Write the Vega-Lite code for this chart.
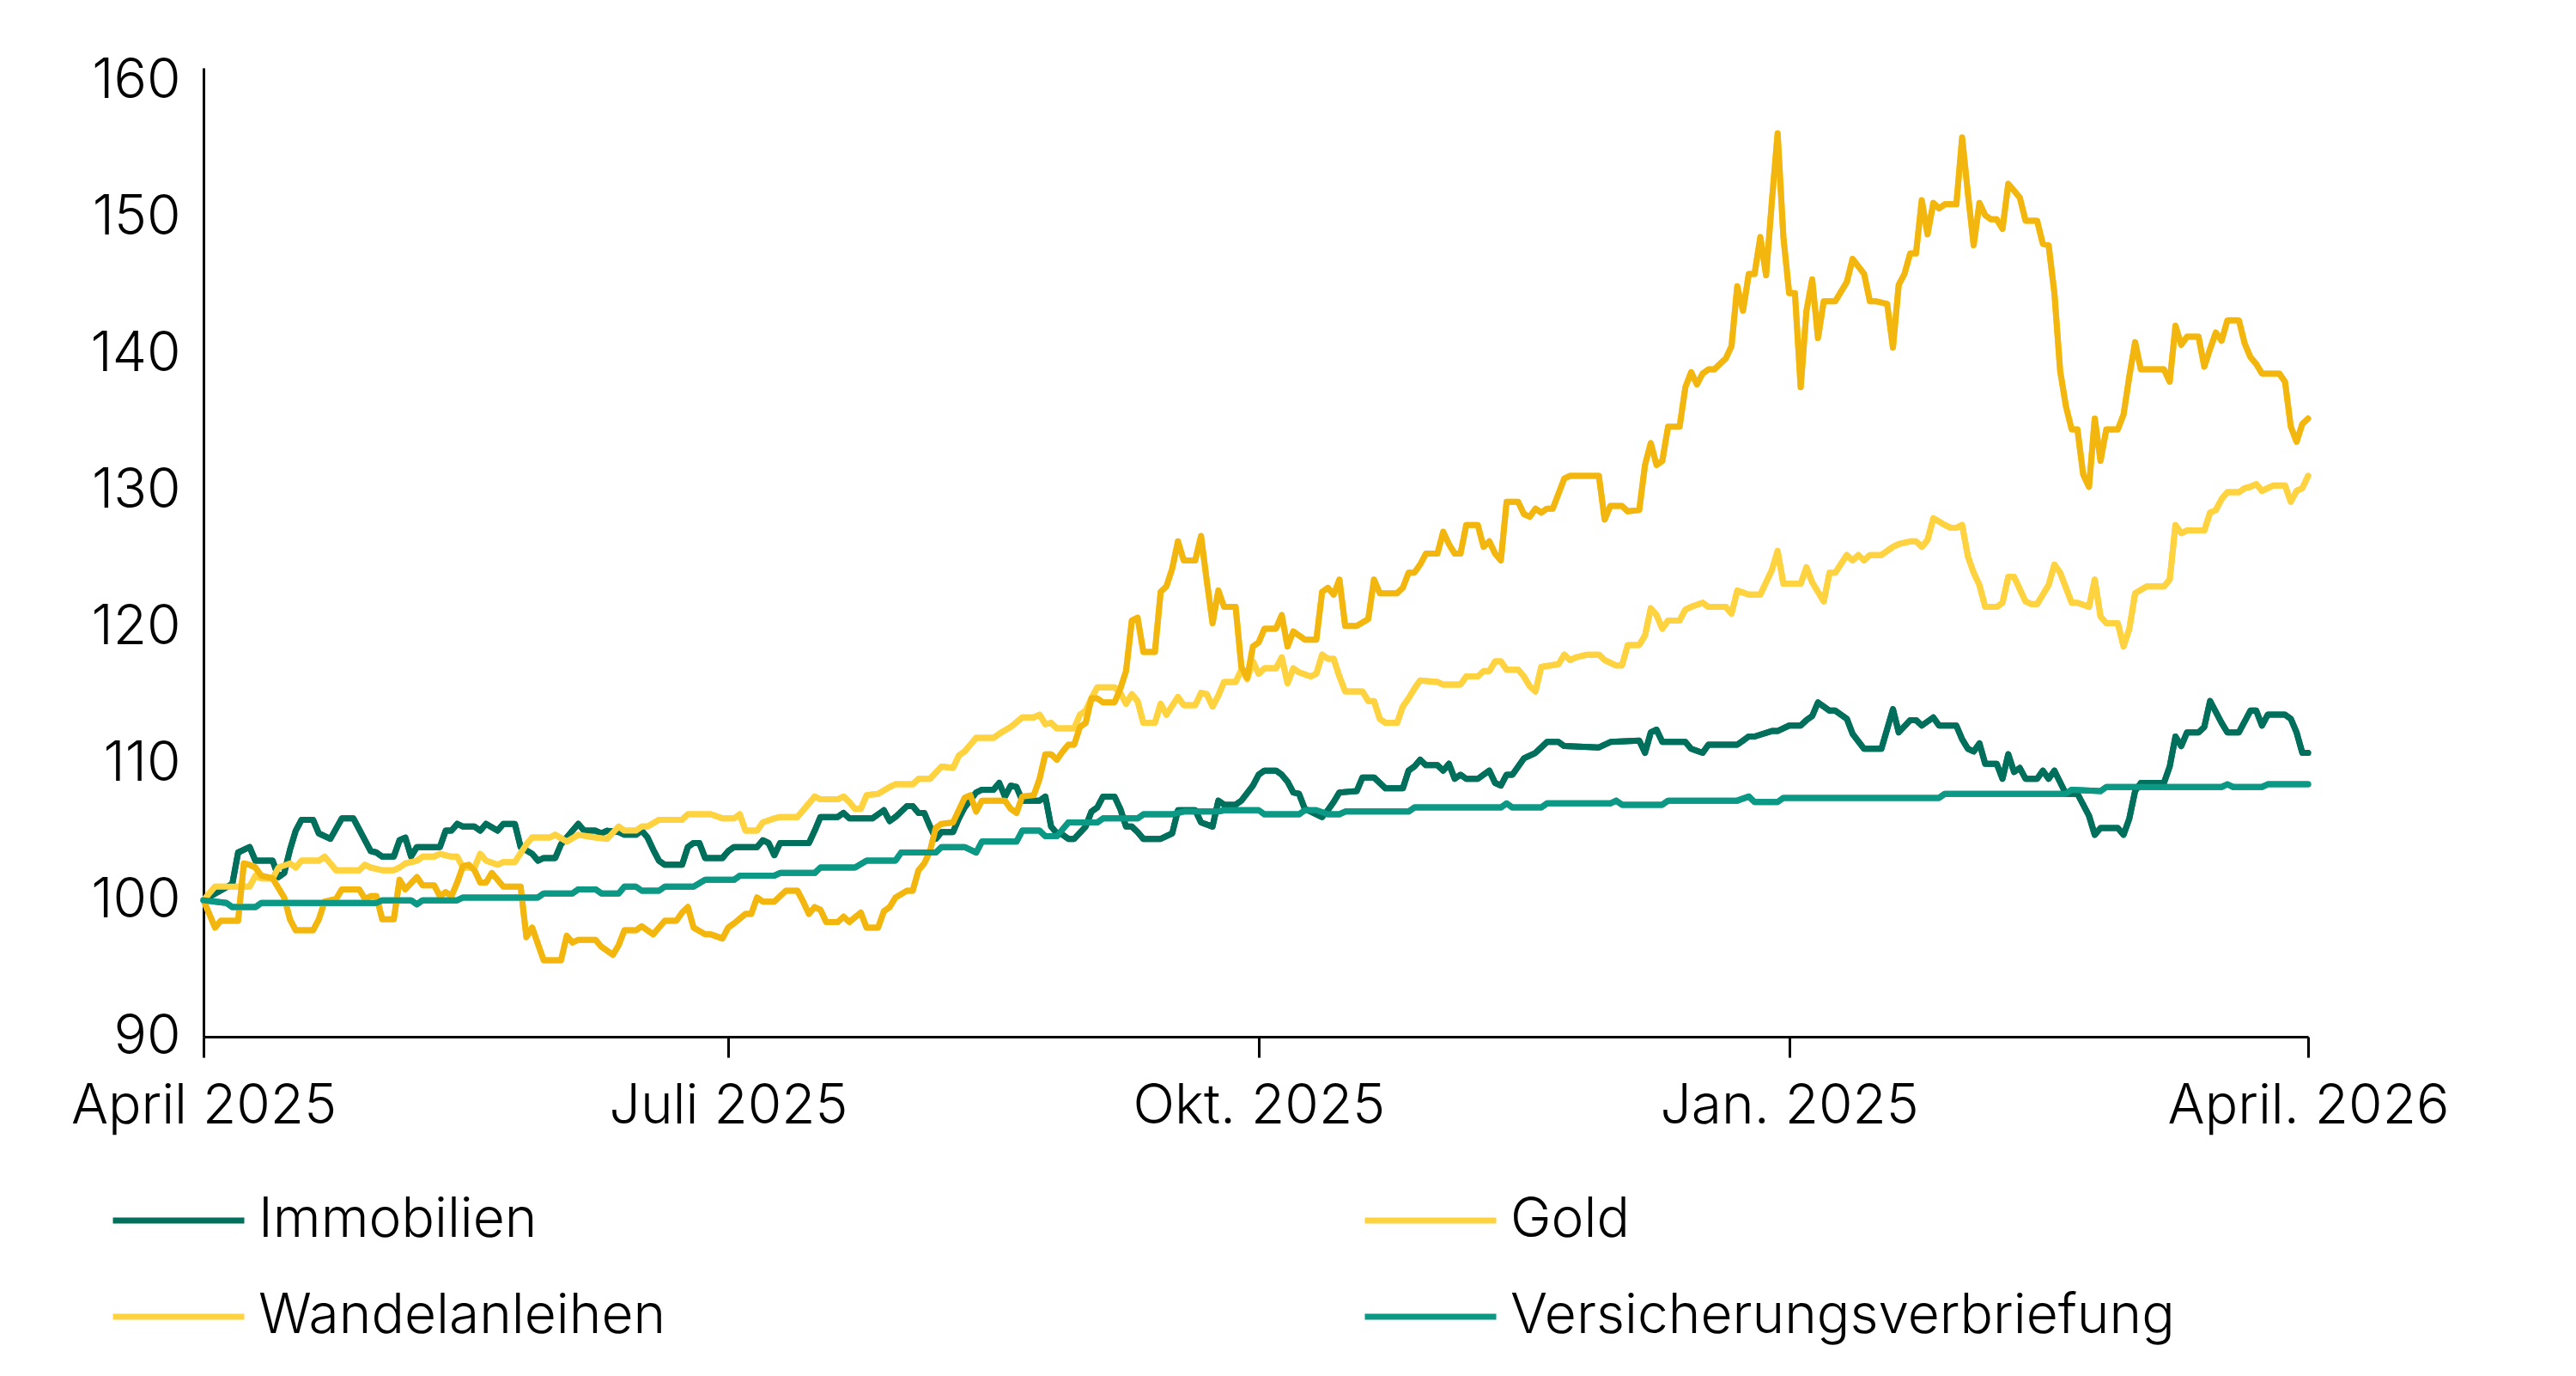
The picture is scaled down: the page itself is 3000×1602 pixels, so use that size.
{
  "$schema": "https://vega.github.io/schema/vega-lite/v6.json",
  "width": 2451,
  "height": 1128,
  "autosize": {"type": "none"},
  "padding": {"left": 237, "top": 79, "right": 312, "bottom": 395},
  "background": "white",
  "config": {
    "view": {"stroke": null},
    "font": "Inter",
    "axis": {"labelFont": "Inter", "labelFontWeight": 300, "labelColor": "#000000", "labelFontSize": 64, "labelLimit": 1000, "domainColor": "#000000", "domainWidth": 3, "tickColor": "#000000", "tickWidth": 3, "grid": false, "title": null}
  },
  "data": {"values": [
    {"asset":"Immobilien","date":"2025-04-01","value":100},
    {"asset":"Immobilien","date":"2025-04-06","value":101.2},
    {"asset":"Immobilien","date":"2025-04-07","value":103.5},
    {"asset":"Immobilien","date":"2025-04-09","value":103.9},
    {"asset":"Immobilien","date":"2025-04-10","value":102.9},
    {"asset":"Immobilien","date":"2025-04-13","value":102.9},
    {"asset":"Immobilien","date":"2025-04-14","value":101.7},
    {"asset":"Immobilien","date":"2025-04-15","value":102.0},
    {"asset":"Immobilien","date":"2025-04-16","value":103.7},
    {"asset":"Immobilien","date":"2025-04-17","value":105.1},
    {"asset":"Immobilien","date":"2025-04-18","value":105.9},
    {"asset":"Immobilien","date":"2025-04-20","value":105.9},
    {"asset":"Immobilien","date":"2025-04-21","value":104.9},
    {"asset":"Immobilien","date":"2025-04-23","value":104.5},
    {"asset":"Immobilien","date":"2025-04-25","value":106.0},
    {"asset":"Immobilien","date":"2025-04-27","value":106.0},
    {"asset":"Immobilien","date":"2025-04-30","value":103.6},
    {"asset":"Immobilien","date":"2025-05-01","value":103.5},
    {"asset":"Immobilien","date":"2025-05-02","value":103.2},
    {"asset":"Immobilien","date":"2025-05-04","value":103.2},
    {"asset":"Immobilien","date":"2025-05-05","value":104.4},
    {"asset":"Immobilien","date":"2025-05-06","value":104.6},
    {"asset":"Immobilien","date":"2025-05-07","value":103.2},
    {"asset":"Immobilien","date":"2025-05-08","value":103.9},
    {"asset":"Immobilien","date":"2025-05-12","value":103.9},
    {"asset":"Immobilien","date":"2025-05-13","value":105.1},
    {"asset":"Immobilien","date":"2025-05-14","value":105.1},
    {"asset":"Immobilien","date":"2025-05-15","value":105.6},
    {"asset":"Immobilien","date":"2025-05-16","value":105.4},
    {"asset":"Immobilien","date":"2025-05-18","value":105.4},
    {"asset":"Immobilien","date":"2025-05-19","value":105.1},
    {"asset":"Immobilien","date":"2025-05-20","value":105.6},
    {"asset":"Immobilien","date":"2025-05-22","value":105.1},
    {"asset":"Immobilien","date":"2025-05-23","value":105.6},
    {"asset":"Immobilien","date":"2025-05-25","value":105.6},
    {"asset":"Immobilien","date":"2025-05-26","value":103.9},
    {"asset":"Immobilien","date":"2025-05-28","value":103.4},
    {"asset":"Immobilien","date":"2025-05-29","value":102.9},
    {"asset":"Immobilien","date":"2025-05-30","value":103.1},
    {"asset":"Immobilien","date":"2025-06-01","value":103.1},
    {"asset":"Immobilien","date":"2025-06-02","value":104.1},
    {"asset":"Immobilien","date":"2025-06-04","value":105.1},
    {"asset":"Immobilien","date":"2025-06-05","value":105.6},
    {"asset":"Immobilien","date":"2025-06-06","value":105.1},
    {"asset":"Immobilien","date":"2025-06-08","value":105.1},
    {"asset":"Immobilien","date":"2025-06-09","value":104.9},
    {"asset":"Immobilien","date":"2025-06-10","value":105.1},
    {"asset":"Immobilien","date":"2025-06-12","value":105.0},
    {"asset":"Immobilien","date":"2025-06-13","value":104.8},
    {"asset":"Immobilien","date":"2025-06-15","value":104.8},
    {"asset":"Immobilien","date":"2025-06-16","value":105.1},
    {"asset":"Immobilien","date":"2025-06-17","value":104.6},
    {"asset":"Immobilien","date":"2025-06-18","value":103.7},
    {"asset":"Immobilien","date":"2025-06-19","value":102.9},
    {"asset":"Immobilien","date":"2025-06-20","value":102.6},
    {"asset":"Immobilien","date":"2025-06-23","value":102.6},
    {"asset":"Immobilien","date":"2025-06-24","value":103.9},
    {"asset":"Immobilien","date":"2025-06-25","value":104.2},
    {"asset":"Immobilien","date":"2025-06-26","value":104.2},
    {"asset":"Immobilien","date":"2025-06-27","value":103.1},
    {"asset":"Immobilien","date":"2025-06-30","value":103.1},
    {"asset":"Immobilien","date":"2025-07-01","value":103.6},
    {"asset":"Immobilien","date":"2025-07-02","value":103.9},
    {"asset":"Immobilien","date":"2025-07-06","value":103.9},
    {"asset":"Immobilien","date":"2025-07-07","value":104.4},
    {"asset":"Immobilien","date":"2025-07-08","value":104.2},
    {"asset":"Immobilien","date":"2025-07-09","value":103.3},
    {"asset":"Immobilien","date":"2025-07-10","value":104.2},
    {"asset":"Immobilien","date":"2025-07-15","value":104.2},
    {"asset":"Immobilien","date":"2025-07-16","value":105.1},
    {"asset":"Immobilien","date":"2025-07-17","value":106.1},
    {"asset":"Immobilien","date":"2025-07-20","value":106.1},
    {"asset":"Immobilien","date":"2025-07-21","value":106.4},
    {"asset":"Immobilien","date":"2025-07-22","value":106.0},
    {"asset":"Immobilien","date":"2025-07-26","value":106.0},
    {"asset":"Immobilien","date":"2025-07-28","value":106.6},
    {"asset":"Immobilien","date":"2025-07-29","value":105.8},
    {"asset":"Immobilien","date":"2025-07-30","value":106.1},
    {"asset":"Immobilien","date":"2025-08-01","value":106.9},
    {"asset":"Immobilien","date":"2025-08-02","value":106.9},
    {"asset":"Immobilien","date":"2025-08-03","value":106.4},
    {"asset":"Immobilien","date":"2025-08-04","value":106.4},
    {"asset":"Immobilien","date":"2025-08-05","value":105.4},
    {"asset":"Immobilien","date":"2025-08-06","value":104.5},
    {"asset":"Immobilien","date":"2025-08-07","value":105.0},
    {"asset":"Immobilien","date":"2025-08-09","value":105.0},
    {"asset":"Immobilien","date":"2025-08-10","value":106.0},
    {"asset":"Immobilien","date":"2025-08-11","value":106.8},
    {"asset":"Immobilien","date":"2025-08-13","value":107.9},
    {"asset":"Immobilien","date":"2025-08-14","value":108.1},
    {"asset":"Immobilien","date":"2025-08-16","value":108.1},
    {"asset":"Immobilien","date":"2025-08-17","value":108.6},
    {"asset":"Immobilien","date":"2025-08-18","value":107.6},
    {"asset":"Immobilien","date":"2025-08-19","value":108.4},
    {"asset":"Immobilien","date":"2025-08-20","value":108.3},
    {"asset":"Immobilien","date":"2025-08-21","value":107.3},
    {"asset":"Immobilien","date":"2025-08-24","value":107.3},
    {"asset":"Immobilien","date":"2025-08-25","value":107.6},
    {"asset":"Immobilien","date":"2025-08-26","value":105.4},
    {"asset":"Immobilien","date":"2025-08-27","value":104.9},
    {"asset":"Immobilien","date":"2025-08-28","value":104.8},
    {"asset":"Immobilien","date":"2025-08-29","value":104.5},
    {"asset":"Immobilien","date":"2025-08-30","value":104.5},
    {"asset":"Immobilien","date":"2025-09-01","value":105.4},
    {"asset":"Immobilien","date":"2025-09-02","value":106.5},
    {"asset":"Immobilien","date":"2025-09-03","value":106.8},
    {"asset":"Immobilien","date":"2025-09-04","value":107.6},
    {"asset":"Immobilien","date":"2025-09-06","value":107.6},
    {"asset":"Immobilien","date":"2025-09-07","value":106.7},
    {"asset":"Immobilien","date":"2025-09-08","value":105.4},
    {"asset":"Immobilien","date":"2025-09-09","value":105.4},
    {"asset":"Immobilien","date":"2025-09-10","value":105.0},
    {"asset":"Immobilien","date":"2025-09-11","value":104.5},
    {"asset":"Immobilien","date":"2025-09-14","value":104.5},
    {"asset":"Immobilien","date":"2025-09-16","value":104.9},
    {"asset":"Immobilien","date":"2025-09-17","value":106.6},
    {"asset":"Immobilien","date":"2025-09-20","value":106.6},
    {"asset":"Immobilien","date":"2025-09-21","value":105.7},
    {"asset":"Immobilien","date":"2025-09-23","value":105.4},
    {"asset":"Immobilien","date":"2025-09-24","value":107.3},
    {"asset":"Immobilien","date":"2025-09-25","value":107.0},
    {"asset":"Immobilien","date":"2025-09-27","value":107.0},
    {"asset":"Immobilien","date":"2025-09-28","value":107.3},
    {"asset":"Immobilien","date":"2025-09-30","value":108.4},
    {"asset":"Immobilien","date":"2025-10-01","value":109.2},
    {"asset":"Immobilien","date":"2025-10-02","value":109.5},
    {"asset":"Immobilien","date":"2025-10-04","value":109.5},
    {"asset":"Immobilien","date":"2025-10-05","value":109.2},
    {"asset":"Immobilien","date":"2025-10-06","value":108.7},
    {"asset":"Immobilien","date":"2025-10-07","value":107.9},
    {"asset":"Immobilien","date":"2025-10-08","value":107.8},
    {"asset":"Immobilien","date":"2025-10-09","value":106.7},
    {"asset":"Immobilien","date":"2025-10-10","value":106.5},
    {"asset":"Immobilien","date":"2025-10-11","value":106.3},
    {"asset":"Immobilien","date":"2025-10-12","value":106.1},
    {"asset":"Immobilien","date":"2025-10-13","value":106.6},
    {"asset":"Immobilien","date":"2025-10-14","value":107.2},
    {"asset":"Immobilien","date":"2025-10-15","value":107.9},
    {"asset":"Immobilien","date":"2025-10-18","value":108.0},
    {"asset":"Immobilien","date":"2025-10-19","value":109.0},
    {"asset":"Immobilien","date":"2025-10-21","value":109.0},
    {"asset":"Immobilien","date":"2025-10-23","value":108.2},
    {"asset":"Immobilien","date":"2025-10-26","value":108.2},
    {"asset":"Immobilien","date":"2025-10-27","value":109.5},
    {"asset":"Immobilien","date":"2025-10-28","value":109.8},
    {"asset":"Immobilien","date":"2025-10-29","value":110.3},
    {"asset":"Immobilien","date":"2025-10-30","value":109.9},
    {"asset":"Immobilien","date":"2025-11-01","value":109.9},
    {"asset":"Immobilien","date":"2025-11-02","value":109.5},
    {"asset":"Immobilien","date":"2025-11-03","value":110.0},
    {"asset":"Immobilien","date":"2025-11-04","value":108.9},
    {"asset":"Immobilien","date":"2025-11-05","value":109.2},
    {"asset":"Immobilien","date":"2025-11-06","value":108.9},
    {"asset":"Immobilien","date":"2025-11-08","value":108.9},
    {"asset":"Immobilien","date":"2025-11-10","value":109.5},
    {"asset":"Immobilien","date":"2025-11-11","value":108.6},
    {"asset":"Immobilien","date":"2025-11-12","value":108.4},
    {"asset":"Immobilien","date":"2025-11-13","value":109.2},
    {"asset":"Immobilien","date":"2025-11-14","value":109.2},
    {"asset":"Immobilien","date":"2025-11-16","value":110.4},
    {"asset":"Immobilien","date":"2025-11-18","value":110.8},
    {"asset":"Immobilien","date":"2025-11-20","value":111.6},
    {"asset":"Immobilien","date":"2025-11-22","value":111.6},
    {"asset":"Immobilien","date":"2025-11-23","value":111.3},
    {"asset":"Immobilien","date":"2025-11-29","value":111.2},
    {"asset":"Immobilien","date":"2025-12-01","value":111.6},
    {"asset":"Immobilien","date":"2025-12-06","value":111.7},
    {"asset":"Immobilien","date":"2025-12-07","value":110.8},
    {"asset":"Immobilien","date":"2025-12-08","value":112.3},
    {"asset":"Immobilien","date":"2025-12-09","value":112.5},
    {"asset":"Immobilien","date":"2025-12-10","value":111.6},
    {"asset":"Immobilien","date":"2025-12-14","value":111.6},
    {"asset":"Immobilien","date":"2025-12-15","value":111.1},
    {"asset":"Immobilien","date":"2025-12-17","value":110.8},
    {"asset":"Immobilien","date":"2025-12-18","value":111.4},
    {"asset":"Immobilien","date":"2025-12-23","value":111.4},
    {"asset":"Immobilien","date":"2025-12-25","value":112.0},
    {"asset":"Immobilien","date":"2025-12-26","value":112.0},
    {"asset":"Immobilien","date":"2025-12-29","value":112.4},
    {"asset":"Immobilien","date":"2025-12-30","value":112.4},
    {"asset":"Immobilien","date":"2026-01-01","value":112.8},
    {"asset":"Immobilien","date":"2026-01-03","value":112.8},
    {"asset":"Immobilien","date":"2026-01-04","value":113.2},
    {"asset":"Immobilien","date":"2026-01-05","value":113.5},
    {"asset":"Immobilien","date":"2026-01-06","value":114.5},
    {"asset":"Immobilien","date":"2026-01-07","value":114.2},
    {"asset":"Immobilien","date":"2026-01-08","value":113.9},
    {"asset":"Immobilien","date":"2026-01-09","value":113.9},
    {"asset":"Immobilien","date":"2026-01-11","value":113.3},
    {"asset":"Immobilien","date":"2026-01-12","value":112.2},
    {"asset":"Immobilien","date":"2026-01-14","value":111.1},
    {"asset":"Immobilien","date":"2026-01-17","value":111.1},
    {"asset":"Immobilien","date":"2026-01-19","value":114.0},
    {"asset":"Immobilien","date":"2026-01-20","value":112.3},
    {"asset":"Immobilien","date":"2026-01-22","value":113.2},
    {"asset":"Immobilien","date":"2026-01-23","value":113.2},
    {"asset":"Immobilien","date":"2026-01-24","value":112.8},
    {"asset":"Immobilien","date":"2026-01-26","value":113.4},
    {"asset":"Immobilien","date":"2026-01-27","value":112.8},
    {"asset":"Immobilien","date":"2026-01-30","value":112.8},
    {"asset":"Immobilien","date":"2026-01-31","value":111.8},
    {"asset":"Immobilien","date":"2026-02-01","value":111.1},
    {"asset":"Immobilien","date":"2026-02-02","value":110.9},
    {"asset":"Immobilien","date":"2026-02-03","value":111.5},
    {"asset":"Immobilien","date":"2026-02-04","value":110.0},
    {"asset":"Immobilien","date":"2026-02-06","value":110.0},
    {"asset":"Immobilien","date":"2026-02-07","value":108.9},
    {"asset":"Immobilien","date":"2026-02-08","value":110.7},
    {"asset":"Immobilien","date":"2026-02-09","value":109.4},
    {"asset":"Immobilien","date":"2026-02-10","value":109.7},
    {"asset":"Immobilien","date":"2026-02-11","value":108.9},
    {"asset":"Immobilien","date":"2026-02-13","value":108.9},
    {"asset":"Immobilien","date":"2026-02-14","value":109.5},
    {"asset":"Immobilien","date":"2026-02-15","value":108.9},
    {"asset":"Immobilien","date":"2026-02-16","value":109.5},
    {"asset":"Immobilien","date":"2026-02-18","value":107.8},
    {"asset":"Immobilien","date":"2026-02-20","value":107.8},
    {"asset":"Immobilien","date":"2026-02-22","value":106.2},
    {"asset":"Immobilien","date":"2026-02-23","value":104.8},
    {"asset":"Immobilien","date":"2026-02-24","value":105.3},
    {"asset":"Immobilien","date":"2026-02-27","value":105.3},
    {"asset":"Immobilien","date":"2026-02-28","value":104.8},
    {"asset":"Immobilien","date":"2026-03-01","value":106.0},
    {"asset":"Immobilien","date":"2026-03-02","value":108.0},
    {"asset":"Immobilien","date":"2026-03-03","value":108.6},
    {"asset":"Immobilien","date":"2026-03-07","value":108.6},
    {"asset":"Immobilien","date":"2026-03-08","value":109.8},
    {"asset":"Immobilien","date":"2026-03-09","value":112.0},
    {"asset":"Immobilien","date":"2026-03-10","value":111.3},
    {"asset":"Immobilien","date":"2026-03-11","value":112.3},
    {"asset":"Immobilien","date":"2026-03-13","value":112.3},
    {"asset":"Immobilien","date":"2026-03-14","value":112.7},
    {"asset":"Immobilien","date":"2026-03-15","value":114.6},
    {"asset":"Immobilien","date":"2026-03-16","value":113.8},
    {"asset":"Immobilien","date":"2026-03-17","value":113.0},
    {"asset":"Immobilien","date":"2026-03-18","value":112.3},
    {"asset":"Immobilien","date":"2026-03-20","value":112.3},
    {"asset":"Immobilien","date":"2026-03-22","value":113.9},
    {"asset":"Immobilien","date":"2026-03-23","value":113.9},
    {"asset":"Immobilien","date":"2026-03-24","value":112.8},
    {"asset":"Immobilien","date":"2026-03-25","value":113.6},
    {"asset":"Immobilien","date":"2026-03-28","value":113.6},
    {"asset":"Immobilien","date":"2026-03-29","value":113.3},
    {"asset":"Immobilien","date":"2026-03-30","value":112.3},
    {"asset":"Immobilien","date":"2026-03-31","value":110.8},
    {"asset":"Immobilien","date":"2026-04-01","value":110.8},

    {"asset":"Wandelanleihen","date":"2025-04-01","value":100},
    {"asset":"Wandelanleihen","date":"2025-04-03","value":101.0},
    {"asset":"Wandelanleihen","date":"2025-04-09","value":101.0},
    {"asset":"Wandelanleihen","date":"2025-04-10","value":101.8},
    {"asset":"Wandelanleihen","date":"2025-04-11","value":101.6},
    {"asset":"Wandelanleihen","date":"2025-04-13","value":101.6},
    {"asset":"Wandelanleihen","date":"2025-04-14","value":102.4},
    {"asset":"Wandelanleihen","date":"2025-04-16","value":102.7},
    {"asset":"Wandelanleihen","date":"2025-04-17","value":102.4},
    {"asset":"Wandelanleihen","date":"2025-04-18","value":102.9},
    {"asset":"Wandelanleihen","date":"2025-04-21","value":102.9},
    {"asset":"Wandelanleihen","date":"2025-04-22","value":103.2},
    {"asset":"Wandelanleihen","date":"2025-04-24","value":102.2},
    {"asset":"Wandelanleihen","date":"2025-04-28","value":102.2},
    {"asset":"Wandelanleihen","date":"2025-04-29","value":102.6},
    {"asset":"Wandelanleihen","date":"2025-04-30","value":102.4},
    {"asset":"Wandelanleihen","date":"2025-05-01","value":102.3},
    {"asset":"Wandelanleihen","date":"2025-05-02","value":102.2},
    {"asset":"Wandelanleihen","date":"2025-05-04","value":102.2},
    {"asset":"Wandelanleihen","date":"2025-05-05","value":102.4},
    {"asset":"Wandelanleihen","date":"2025-05-06","value":102.7},
    {"asset":"Wandelanleihen","date":"2025-05-08","value":102.9},
    {"asset":"Wandelanleihen","date":"2025-05-09","value":103.2},
    {"asset":"Wandelanleihen","date":"2025-05-11","value":103.2},
    {"asset":"Wandelanleihen","date":"2025-05-12","value":103.4},
    {"asset":"Wandelanleihen","date":"2025-05-14","value":103.2},
    {"asset":"Wandelanleihen","date":"2025-05-15","value":103.2},
    {"asset":"Wandelanleihen","date":"2025-05-16","value":102.4},
    {"asset":"Wandelanleihen","date":"2025-05-18","value":102.4},
    {"asset":"Wandelanleihen","date":"2025-05-19","value":103.4},
    {"asset":"Wandelanleihen","date":"2025-05-20","value":102.9},
    {"asset":"Wandelanleihen","date":"2025-05-22","value":102.6},
    {"asset":"Wandelanleihen","date":"2025-05-23","value":102.8},
    {"asset":"Wandelanleihen","date":"2025-05-25","value":102.8},
    {"asset":"Wandelanleihen","date":"2025-05-27","value":104.1},
    {"asset":"Wandelanleihen","date":"2025-05-28","value":104.6},
    {"asset":"Wandelanleihen","date":"2025-05-31","value":104.6},
    {"asset":"Wandelanleihen","date":"2025-06-01","value":104.8},
    {"asset":"Wandelanleihen","date":"2025-06-03","value":104.3},
    {"asset":"Wandelanleihen","date":"2025-06-05","value":104.8},
    {"asset":"Wandelanleihen","date":"2025-06-08","value":104.6},
    {"asset":"Wandelanleihen","date":"2025-06-10","value":104.5},
    {"asset":"Wandelanleihen","date":"2025-06-12","value":105.4},
    {"asset":"Wandelanleihen","date":"2025-06-13","value":105.1},
    {"asset":"Wandelanleihen","date":"2025-06-15","value":105.1},
    {"asset":"Wandelanleihen","date":"2025-06-16","value":105.4},
    {"asset":"Wandelanleihen","date":"2025-06-17","value":105.4},
    {"asset":"Wandelanleihen","date":"2025-06-19","value":105.9},
    {"asset":"Wandelanleihen","date":"2025-06-23","value":105.9},
    {"asset":"Wandelanleihen","date":"2025-06-24","value":106.3},
    {"asset":"Wandelanleihen","date":"2025-06-28","value":106.3},
    {"asset":"Wandelanleihen","date":"2025-06-30","value":106.0},
    {"asset":"Wandelanleihen","date":"2025-07-02","value":106.0},
    {"asset":"Wandelanleihen","date":"2025-07-03","value":106.3},
    {"asset":"Wandelanleihen","date":"2025-07-04","value":105.1},
    {"asset":"Wandelanleihen","date":"2025-07-06","value":105.1},
    {"asset":"Wandelanleihen","date":"2025-07-07","value":105.7},
    {"asset":"Wandelanleihen","date":"2025-07-09","value":106.0},
    {"asset":"Wandelanleihen","date":"2025-07-10","value":106.1},
    {"asset":"Wandelanleihen","date":"2025-07-13","value":106.1},
    {"asset":"Wandelanleihen","date":"2025-07-16","value":107.6},
    {"asset":"Wandelanleihen","date":"2025-07-17","value":107.4},
    {"asset":"Wandelanleihen","date":"2025-07-20","value":107.4},
    {"asset":"Wandelanleihen","date":"2025-07-21","value":107.6},
    {"asset":"Wandelanleihen","date":"2025-07-22","value":107.2},
    {"asset":"Wandelanleihen","date":"2025-07-23","value":106.7},
    {"asset":"Wandelanleihen","date":"2025-07-24","value":106.7},
    {"asset":"Wandelanleihen","date":"2025-07-25","value":107.7},
    {"asset":"Wandelanleihen","date":"2025-07-27","value":107.8},
    {"asset":"Wandelanleihen","date":"2025-07-29","value":108.3},
    {"asset":"Wandelanleihen","date":"2025-07-30","value":108.5},
    {"asset":"Wandelanleihen","date":"2025-08-02","value":108.5},
    {"asset":"Wandelanleihen","date":"2025-08-03","value":108.9},
    {"asset":"Wandelanleihen","date":"2025-08-05","value":108.9},
    {"asset":"Wandelanleihen","date":"2025-08-07","value":109.8},
    {"asset":"Wandelanleihen","date":"2025-08-09","value":109.7},
    {"asset":"Wandelanleihen","date":"2025-08-10","value":110.6},
    {"asset":"Wandelanleihen","date":"2025-08-11","value":110.9},
    {"asset":"Wandelanleihen","date":"2025-08-13","value":111.9},
    {"asset":"Wandelanleihen","date":"2025-08-16","value":111.9},
    {"asset":"Wandelanleihen","date":"2025-08-17","value":112.2},
    {"asset":"Wandelanleihen","date":"2025-08-19","value":112.7},
    {"asset":"Wandelanleihen","date":"2025-08-21","value":113.4},
    {"asset":"Wandelanleihen","date":"2025-08-23","value":113.4},
    {"asset":"Wandelanleihen","date":"2025-08-24","value":113.6},
    {"asset":"Wandelanleihen","date":"2025-08-25","value":112.9},
    {"asset":"Wandelanleihen","date":"2025-08-26","value":113.0},
    {"asset":"Wandelanleihen","date":"2025-08-27","value":112.6},
    {"asset":"Wandelanleihen","date":"2025-08-30","value":112.6},
    {"asset":"Wandelanleihen","date":"2025-08-31","value":113.6},
    {"asset":"Wandelanleihen","date":"2025-09-01","value":113.9},
    {"asset":"Wandelanleihen","date":"2025-09-02","value":114.8},
    {"asset":"Wandelanleihen","date":"2025-09-03","value":115.6},
    {"asset":"Wandelanleihen","date":"2025-09-06","value":115.6},
    {"asset":"Wandelanleihen","date":"2025-09-07","value":115.2},
    {"asset":"Wandelanleihen","date":"2025-09-08","value":114.4},
    {"asset":"Wandelanleihen","date":"2025-09-09","value":115.1},
    {"asset":"Wandelanleihen","date":"2025-09-10","value":114.6},
    {"asset":"Wandelanleihen","date":"2025-09-11","value":113.0},
    {"asset":"Wandelanleihen","date":"2025-09-13","value":113.0},
    {"asset":"Wandelanleihen","date":"2025-09-14","value":114.4},
    {"asset":"Wandelanleihen","date":"2025-09-15","value":113.6},
    {"asset":"Wandelanleihen","date":"2025-09-17","value":114.9},
    {"asset":"Wandelanleihen","date":"2025-09-18","value":114.3},
    {"asset":"Wandelanleihen","date":"2025-09-20","value":114.3},
    {"asset":"Wandelanleihen","date":"2025-09-21","value":115.2},
    {"asset":"Wandelanleihen","date":"2025-09-22","value":115.1},
    {"asset":"Wandelanleihen","date":"2025-09-23","value":114.2},
    {"asset":"Wandelanleihen","date":"2025-09-24","value":115.0},
    {"asset":"Wandelanleihen","date":"2025-09-25","value":116.0},
    {"asset":"Wandelanleihen","date":"2025-09-27","value":116.0},
    {"asset":"Wandelanleihen","date":"2025-09-28","value":116.9},
    {"asset":"Wandelanleihen","date":"2025-09-29","value":116.2},
    {"asset":"Wandelanleihen","date":"2025-09-30","value":117.5},
    {"asset":"Wandelanleihen","date":"2025-10-01","value":116.6},
    {"asset":"Wandelanleihen","date":"2025-10-02","value":117.0},
    {"asset":"Wandelanleihen","date":"2025-10-04","value":117.0},
    {"asset":"Wandelanleihen","date":"2025-10-05","value":117.8},
    {"asset":"Wandelanleihen","date":"2025-10-06","value":115.9},
    {"asset":"Wandelanleihen","date":"2025-10-07","value":117.0},
    {"asset":"Wandelanleihen","date":"2025-10-08","value":116.7},
    {"asset":"Wandelanleihen","date":"2025-10-10","value":116.4},
    {"asset":"Wandelanleihen","date":"2025-10-11","value":116.6},
    {"asset":"Wandelanleihen","date":"2025-10-12","value":118.0},
    {"asset":"Wandelanleihen","date":"2025-10-13","value":117.7},
    {"asset":"Wandelanleihen","date":"2025-10-14","value":117.7},
    {"asset":"Wandelanleihen","date":"2025-10-15","value":116.4},
    {"asset":"Wandelanleihen","date":"2025-10-16","value":115.3},
    {"asset":"Wandelanleihen","date":"2025-10-19","value":115.3},
    {"asset":"Wandelanleihen","date":"2025-10-20","value":114.6},
    {"asset":"Wandelanleihen","date":"2025-10-21","value":114.6},
    {"asset":"Wandelanleihen","date":"2025-10-22","value":113.3},
    {"asset":"Wandelanleihen","date":"2025-10-23","value":113.0},
    {"asset":"Wandelanleihen","date":"2025-10-25","value":113.0},
    {"asset":"Wandelanleihen","date":"2025-10-26","value":114.2},
    {"asset":"Wandelanleihen","date":"2025-10-27","value":114.8},
    {"asset":"Wandelanleihen","date":"2025-10-28","value":115.5},
    {"asset":"Wandelanleihen","date":"2025-10-29","value":116.1},
    {"asset":"Wandelanleihen","date":"2025-11-01","value":116.0},
    {"asset":"Wandelanleihen","date":"2025-11-02","value":115.8},
    {"asset":"Wandelanleihen","date":"2025-11-05","value":115.8},
    {"asset":"Wandelanleihen","date":"2025-11-06","value":116.4},
    {"asset":"Wandelanleihen","date":"2025-11-08","value":116.4},
    {"asset":"Wandelanleihen","date":"2025-11-09","value":116.8},
    {"asset":"Wandelanleihen","date":"2025-11-10","value":116.8},
    {"asset":"Wandelanleihen","date":"2025-11-11","value":117.5},
    {"asset":"Wandelanleihen","date":"2025-11-12","value":117.5},
    {"asset":"Wandelanleihen","date":"2025-11-13","value":116.9},
    {"asset":"Wandelanleihen","date":"2025-11-15","value":116.9},
    {"asset":"Wandelanleihen","date":"2025-11-16","value":116.4},
    {"asset":"Wandelanleihen","date":"2025-11-17","value":115.7},
    {"asset":"Wandelanleihen","date":"2025-11-18","value":115.3},
    {"asset":"Wandelanleihen","date":"2025-11-19","value":117.1},
    {"asset":"Wandelanleihen","date":"2025-11-22","value":117.3},
    {"asset":"Wandelanleihen","date":"2025-11-23","value":118.0},
    {"asset":"Wandelanleihen","date":"2025-11-24","value":117.6},
    {"asset":"Wandelanleihen","date":"2025-11-25","value":117.8},
    {"asset":"Wandelanleihen","date":"2025-11-27","value":118.0},
    {"asset":"Wandelanleihen","date":"2025-11-29","value":118.0},
    {"asset":"Wandelanleihen","date":"2025-11-30","value":117.6},
    {"asset":"Wandelanleihen","date":"2025-12-02","value":117.2},
    {"asset":"Wandelanleihen","date":"2025-12-03","value":117.2},
    {"asset":"Wandelanleihen","date":"2025-12-04","value":118.7},
    {"asset":"Wandelanleihen","date":"2025-12-06","value":118.7},
    {"asset":"Wandelanleihen","date":"2025-12-07","value":119.4},
    {"asset":"Wandelanleihen","date":"2025-12-08","value":121.4},
    {"asset":"Wandelanleihen","date":"2025-12-09","value":120.9},
    {"asset":"Wandelanleihen","date":"2025-12-10","value":119.9},
    {"asset":"Wandelanleihen","date":"2025-12-11","value":120.5},
    {"asset":"Wandelanleihen","date":"2025-12-13","value":120.5},
    {"asset":"Wandelanleihen","date":"2025-12-14","value":121.3},
    {"asset":"Wandelanleihen","date":"2025-12-15","value":121.5},
    {"asset":"Wandelanleihen","date":"2025-12-17","value":121.8},
    {"asset":"Wandelanleihen","date":"2025-12-18","value":121.5},
    {"asset":"Wandelanleihen","date":"2025-12-21","value":121.5},
    {"asset":"Wandelanleihen","date":"2025-12-22","value":121.0},
    {"asset":"Wandelanleihen","date":"2025-12-23","value":122.7},
    {"asset":"Wandelanleihen","date":"2025-12-25","value":122.4},
    {"asset":"Wandelanleihen","date":"2025-12-27","value":122.4},
    {"asset":"Wandelanleihen","date":"2025-12-29","value":124.2},
    {"asset":"Wandelanleihen","date":"2025-12-30","value":125.6},
    {"asset":"Wandelanleihen","date":"2025-12-31","value":123.2},
    {"asset":"Wandelanleihen","date":"2026-01-03","value":123.2},
    {"asset":"Wandelanleihen","date":"2026-01-04","value":124.4},
    {"asset":"Wandelanleihen","date":"2026-01-05","value":123.3},
    {"asset":"Wandelanleihen","date":"2026-01-07","value":121.9},
    {"asset":"Wandelanleihen","date":"2026-01-08","value":124.0},
    {"asset":"Wandelanleihen","date":"2026-01-09","value":124.0},
    {"asset":"Wandelanleihen","date":"2026-01-11","value":125.3},
    {"asset":"Wandelanleihen","date":"2026-01-12","value":124.9},
    {"asset":"Wandelanleihen","date":"2026-01-13","value":125.3},
    {"asset":"Wandelanleihen","date":"2026-01-14","value":124.9},
    {"asset":"Wandelanleihen","date":"2026-01-15","value":125.3},
    {"asset":"Wandelanleihen","date":"2026-01-17","value":125.3},
    {"asset":"Wandelanleihen","date":"2026-01-19","value":125.9},
    {"asset":"Wandelanleihen","date":"2026-01-20","value":126.1},
    {"asset":"Wandelanleihen","date":"2026-01-22","value":126.3},
    {"asset":"Wandelanleihen","date":"2026-01-23","value":126.3},
    {"asset":"Wandelanleihen","date":"2026-01-24","value":125.9},
    {"asset":"Wandelanleihen","date":"2026-01-25","value":126.4},
    {"asset":"Wandelanleihen","date":"2026-01-26","value":128.0},
    {"asset":"Wandelanleihen","date":"2026-01-28","value":127.5},
    {"asset":"Wandelanleihen","date":"2026-01-29","value":127.3},
    {"asset":"Wandelanleihen","date":"2026-01-30","value":127.3},
    {"asset":"Wandelanleihen","date":"2026-01-31","value":127.5},
    {"asset":"Wandelanleihen","date":"2026-02-01","value":125.2},
    {"asset":"Wandelanleihen","date":"2026-02-02","value":124.0},
    {"asset":"Wandelanleihen","date":"2026-02-03","value":123.1},
    {"asset":"Wandelanleihen","date":"2026-02-04","value":121.5},
    {"asset":"Wandelanleihen","date":"2026-02-06","value":121.5},
    {"asset":"Wandelanleihen","date":"2026-02-07","value":121.8},
    {"asset":"Wandelanleihen","date":"2026-02-08","value":123.7},
    {"asset":"Wandelanleihen","date":"2026-02-09","value":123.7},
    {"asset":"Wandelanleihen","date":"2026-02-11","value":121.9},
    {"asset":"Wandelanleihen","date":"2026-02-12","value":121.7},
    {"asset":"Wandelanleihen","date":"2026-02-13","value":121.7},
    {"asset":"Wandelanleihen","date":"2026-02-15","value":123.1},
    {"asset":"Wandelanleihen","date":"2026-02-16","value":124.6},
    {"asset":"Wandelanleihen","date":"2026-02-17","value":124.0},
    {"asset":"Wandelanleihen","date":"2026-02-19","value":121.8},
    {"asset":"Wandelanleihen","date":"2026-02-20","value":121.8},
    {"asset":"Wandelanleihen","date":"2026-02-22","value":121.5},
    {"asset":"Wandelanleihen","date":"2026-02-23","value":123.5},
    {"asset":"Wandelanleihen","date":"2026-02-24","value":120.8},
    {"asset":"Wandelanleihen","date":"2026-02-25","value":120.3},
    {"asset":"Wandelanleihen","date":"2026-02-27","value":120.3},
    {"asset":"Wandelanleihen","date":"2026-02-28","value":118.6},
    {"asset":"Wandelanleihen","date":"2026-03-01","value":119.9},
    {"asset":"Wandelanleihen","date":"2026-03-02","value":122.5},
    {"asset":"Wandelanleihen","date":"2026-03-04","value":123.0},
    {"asset":"Wandelanleihen","date":"2026-03-07","value":123.0},
    {"asset":"Wandelanleihen","date":"2026-03-08","value":123.5},
    {"asset":"Wandelanleihen","date":"2026-03-09","value":127.5},
    {"asset":"Wandelanleihen","date":"2026-03-10","value":126.9},
    {"asset":"Wandelanleihen","date":"2026-03-11","value":127.1},
    {"asset":"Wandelanleihen","date":"2026-03-14","value":127.1},
    {"asset":"Wandelanleihen","date":"2026-03-15","value":128.4},
    {"asset":"Wandelanleihen","date":"2026-03-16","value":128.6},
    {"asset":"Wandelanleihen","date":"2026-03-17","value":129.4},
    {"asset":"Wandelanleihen","date":"2026-03-18","value":129.9},
    {"asset":"Wandelanleihen","date":"2026-03-20","value":129.9},
    {"asset":"Wandelanleihen","date":"2026-03-21","value":130.2},
    {"asset":"Wandelanleihen","date":"2026-03-22","value":130.3},
    {"asset":"Wandelanleihen","date":"2026-03-23","value":130.5},
    {"asset":"Wandelanleihen","date":"2026-03-24","value":130.0},
    {"asset":"Wandelanleihen","date":"2026-03-26","value":130.4},
    {"asset":"Wandelanleihen","date":"2026-03-28","value":130.4},
    {"asset":"Wandelanleihen","date":"2026-03-29","value":129.2},
    {"asset":"Wandelanleihen","date":"2026-03-30","value":130.0},
    {"asset":"Wandelanleihen","date":"2026-03-31","value":130.2},
    {"asset":"Wandelanleihen","date":"2026-04-01","value":131.1},

    {"asset":"Gold","date":"2025-04-01","value":100},
    {"asset":"Gold","date":"2025-04-03","value":98.0},
    {"asset":"Gold","date":"2025-04-04","value":98.5},
    {"asset":"Gold","date":"2025-04-07","value":98.5},
    {"asset":"Gold","date":"2025-04-08","value":102.7},
    {"asset":"Gold","date":"2025-04-09","value":102.6},
    {"asset":"Gold","date":"2025-04-10","value":102.4},
    {"asset":"Gold","date":"2025-04-11","value":101.8},
    {"asset":"Gold","date":"2025-04-13","value":101.6},
    {"asset":"Gold","date":"2025-04-15","value":100.2},
    {"asset":"Gold","date":"2025-04-16","value":98.6},
    {"asset":"Gold","date":"2025-04-17","value":97.8},
    {"asset":"Gold","date":"2025-04-20","value":97.8},
    {"asset":"Gold","date":"2025-04-21","value":98.6},
    {"asset":"Gold","date":"2025-04-22","value":99.9},
    {"asset":"Gold","date":"2025-04-24","value":100.1},
    {"asset":"Gold","date":"2025-04-25","value":100.8},
    {"asset":"Gold","date":"2025-04-28","value":100.8},
    {"asset":"Gold","date":"2025-04-29","value":100.1},
    {"asset":"Gold","date":"2025-04-30","value":100.3},
    {"asset":"Gold","date":"2025-05-01","value":100.3},
    {"asset":"Gold","date":"2025-05-02","value":98.6},
    {"asset":"Gold","date":"2025-05-04","value":98.6},
    {"asset":"Gold","date":"2025-05-05","value":101.5},
    {"asset":"Gold","date":"2025-05-06","value":100.8},
    {"asset":"Gold","date":"2025-05-08","value":101.7},
    {"asset":"Gold","date":"2025-05-09","value":101.1},
    {"asset":"Gold","date":"2025-05-11","value":101.1},
    {"asset":"Gold","date":"2025-05-12","value":100.3},
    {"asset":"Gold","date":"2025-05-13","value":100.6},
    {"asset":"Gold","date":"2025-05-14","value":100.3},
    {"asset":"Gold","date":"2025-05-15","value":101.3},
    {"asset":"Gold","date":"2025-05-16","value":102.5},
    {"asset":"Gold","date":"2025-05-17","value":102.6},
    {"asset":"Gold","date":"2025-05-18","value":102.2},
    {"asset":"Gold","date":"2025-05-19","value":101.3},
    {"asset":"Gold","date":"2025-05-20","value":101.3},
    {"asset":"Gold","date":"2025-05-21","value":102.0},
    {"asset":"Gold","date":"2025-05-23","value":101.0},
    {"asset":"Gold","date":"2025-05-26","value":101.0},
    {"asset":"Gold","date":"2025-05-27","value":97.3},
    {"asset":"Gold","date":"2025-05-28","value":98.0},
    {"asset":"Gold","date":"2025-05-30","value":95.6},
    {"asset":"Gold","date":"2025-06-02","value":95.6},
    {"asset":"Gold","date":"2025-06-03","value":97.4},
    {"asset":"Gold","date":"2025-06-04","value":96.9},
    {"asset":"Gold","date":"2025-06-05","value":97.1},
    {"asset":"Gold","date":"2025-06-08","value":97.1},
    {"asset":"Gold","date":"2025-06-09","value":96.6},
    {"asset":"Gold","date":"2025-06-11","value":96.0},
    {"asset":"Gold","date":"2025-06-12","value":96.7},
    {"asset":"Gold","date":"2025-06-13","value":97.8},
    {"asset":"Gold","date":"2025-06-15","value":97.8},
    {"asset":"Gold","date":"2025-06-16","value":98.1},
    {"asset":"Gold","date":"2025-06-18","value":97.5},
    {"asset":"Gold","date":"2025-06-20","value":98.5},
    {"asset":"Gold","date":"2025-06-22","value":98.5},
    {"asset":"Gold","date":"2025-06-23","value":99.1},
    {"asset":"Gold","date":"2025-06-24","value":99.5},
    {"asset":"Gold","date":"2025-06-25","value":98.0},
    {"asset":"Gold","date":"2025-06-27","value":97.5},
    {"asset":"Gold","date":"2025-06-28","value":97.5},
    {"asset":"Gold","date":"2025-06-30","value":97.2},
    {"asset":"Gold","date":"2025-07-01","value":98.0},
    {"asset":"Gold","date":"2025-07-02","value":98.3},
    {"asset":"Gold","date":"2025-07-04","value":99.0},
    {"asset":"Gold","date":"2025-07-05","value":99.0},
    {"asset":"Gold","date":"2025-07-06","value":100.2},
    {"asset":"Gold","date":"2025-07-07","value":99.9},
    {"asset":"Gold","date":"2025-07-09","value":99.9},
    {"asset":"Gold","date":"2025-07-11","value":100.7},
    {"asset":"Gold","date":"2025-07-13","value":100.7},
    {"asset":"Gold","date":"2025-07-14","value":99.9},
    {"asset":"Gold","date":"2025-07-15","value":99.0},
    {"asset":"Gold","date":"2025-07-16","value":99.5},
    {"asset":"Gold","date":"2025-07-17","value":99.3},
    {"asset":"Gold","date":"2025-07-18","value":98.4},
    {"asset":"Gold","date":"2025-07-20","value":98.4},
    {"asset":"Gold","date":"2025-07-21","value":98.8},
    {"asset":"Gold","date":"2025-07-22","value":98.4},
    {"asset":"Gold","date":"2025-07-24","value":99.1},
    {"asset":"Gold","date":"2025-07-25","value":98.0},
    {"asset":"Gold","date":"2025-07-27","value":98.0},
    {"asset":"Gold","date":"2025-07-28","value":99.2},
    {"asset":"Gold","date":"2025-07-29","value":99.5},
    {"asset":"Gold","date":"2025-07-30","value":100.2},
    {"asset":"Gold","date":"2025-08-01","value":100.7},
    {"asset":"Gold","date":"2025-08-02","value":100.7},
    {"asset":"Gold","date":"2025-08-03","value":102.2},
    {"asset":"Gold","date":"2025-08-04","value":102.7},
    {"asset":"Gold","date":"2025-08-05","value":103.6},
    {"asset":"Gold","date":"2025-08-06","value":105.3},
    {"asset":"Gold","date":"2025-08-07","value":105.6},
    {"asset":"Gold","date":"2025-08-09","value":105.7},
    {"asset":"Gold","date":"2025-08-10","value":106.6},
    {"asset":"Gold","date":"2025-08-11","value":107.5},
    {"asset":"Gold","date":"2025-08-12","value":107.7},
    {"asset":"Gold","date":"2025-08-13","value":106.5},
    {"asset":"Gold","date":"2025-08-14","value":107.3},
    {"asset":"Gold","date":"2025-08-18","value":107.3},
    {"asset":"Gold","date":"2025-08-19","value":106.7},
    {"asset":"Gold","date":"2025-08-20","value":106.4},
    {"asset":"Gold","date":"2025-08-21","value":107.6},
    {"asset":"Gold","date":"2025-08-23","value":107.7},
    {"asset":"Gold","date":"2025-08-24","value":108.9},
    {"asset":"Gold","date":"2025-08-25","value":110.7},
    {"asset":"Gold","date":"2025-08-26","value":110.7},
    {"asset":"Gold","date":"2025-08-27","value":110.3},
    {"asset":"Gold","date":"2025-08-28","value":110.9},
    {"asset":"Gold","date":"2025-08-29","value":111.4},
    {"asset":"Gold","date":"2025-08-30","value":111.4},
    {"asset":"Gold","date":"2025-08-31","value":112.7},
    {"asset":"Gold","date":"2025-09-01","value":113.0},
    {"asset":"Gold","date":"2025-09-02","value":114.8},
    {"asset":"Gold","date":"2025-09-03","value":114.8},
    {"asset":"Gold","date":"2025-09-04","value":114.5},
    {"asset":"Gold","date":"2025-09-06","value":114.5},
    {"asset":"Gold","date":"2025-09-07","value":115.5},
    {"asset":"Gold","date":"2025-09-08","value":116.8},
    {"asset":"Gold","date":"2025-09-09","value":120.5},
    {"asset":"Gold","date":"2025-09-10","value":120.7},
    {"asset":"Gold","date":"2025-09-11","value":118.2},
    {"asset":"Gold","date":"2025-09-13","value":118.2},
    {"asset":"Gold","date":"2025-09-14","value":122.6},
    {"asset":"Gold","date":"2025-09-15","value":123.0},
    {"asset":"Gold","date":"2025-09-16","value":124.3},
    {"asset":"Gold","date":"2025-09-17","value":126.3},
    {"asset":"Gold","date":"2025-09-18","value":124.9},
    {"asset":"Gold","date":"2025-09-20","value":124.9},
    {"asset":"Gold","date":"2025-09-21","value":126.7},
    {"asset":"Gold","date":"2025-09-22","value":123.4},
    {"asset":"Gold","date":"2025-09-23","value":120.3},
    {"asset":"Gold","date":"2025-09-24","value":122.7},
    {"asset":"Gold","date":"2025-09-25","value":121.5},
    {"asset":"Gold","date":"2025-09-27","value":121.5},
    {"asset":"Gold","date":"2025-09-28","value":117.1},
    {"asset":"Gold","date":"2025-09-29","value":116.3},
    {"asset":"Gold","date":"2025-09-30","value":118.6},
    {"asset":"Gold","date":"2025-10-01","value":118.9},
    {"asset":"Gold","date":"2025-10-02","value":119.9},
    {"asset":"Gold","date":"2025-10-04","value":119.9},
    {"asset":"Gold","date":"2025-10-05","value":120.9},
    {"asset":"Gold","date":"2025-10-06","value":118.6},
    {"asset":"Gold","date":"2025-10-07","value":119.7},
    {"asset":"Gold","date":"2025-10-09","value":119.1},
    {"asset":"Gold","date":"2025-10-11","value":119.1},
    {"asset":"Gold","date":"2025-10-12","value":122.6},
    {"asset":"Gold","date":"2025-10-13","value":122.9},
    {"asset":"Gold","date":"2025-10-14","value":122.4},
    {"asset":"Gold","date":"2025-10-15","value":123.5},
    {"asset":"Gold","date":"2025-10-16","value":120.1},
    {"asset":"Gold","date":"2025-10-18","value":120.1},
    {"asset":"Gold","date":"2025-10-20","value":120.6},
    {"asset":"Gold","date":"2025-10-21","value":123.5},
    {"asset":"Gold","date":"2025-10-22","value":122.5},
    {"asset":"Gold","date":"2025-10-25","value":122.5},
    {"asset":"Gold","date":"2025-10-26","value":122.9},
    {"asset":"Gold","date":"2025-10-27","value":124.0},
    {"asset":"Gold","date":"2025-10-28","value":124.0},
    {"asset":"Gold","date":"2025-10-29","value":124.6},
    {"asset":"Gold","date":"2025-10-30","value":125.4},
    {"asset":"Gold","date":"2025-11-01","value":125.4},
    {"asset":"Gold","date":"2025-11-02","value":127.0},
    {"asset":"Gold","date":"2025-11-03","value":126.1},
    {"asset":"Gold","date":"2025-11-04","value":125.4},
    {"asset":"Gold","date":"2025-11-05","value":125.4},
    {"asset":"Gold","date":"2025-11-06","value":127.5},
    {"asset":"Gold","date":"2025-11-08","value":127.5},
    {"asset":"Gold","date":"2025-11-09","value":125.9},
    {"asset":"Gold","date":"2025-11-10","value":126.3},
    {"asset":"Gold","date":"2025-11-11","value":125.4},
    {"asset":"Gold","date":"2025-11-12","value":124.9},
    {"asset":"Gold","date":"2025-11-13","value":129.2},
    {"asset":"Gold","date":"2025-11-15","value":129.2},
    {"asset":"Gold","date":"2025-11-16","value":128.3},
    {"asset":"Gold","date":"2025-11-17","value":128.1},
    {"asset":"Gold","date":"2025-11-18","value":128.7},
    {"asset":"Gold","date":"2025-11-19","value":128.4},
    {"asset":"Gold","date":"2025-11-20","value":128.7},
    {"asset":"Gold","date":"2025-11-21","value":128.7},
    {"asset":"Gold","date":"2025-11-23","value":130.9},
    {"asset":"Gold","date":"2025-11-24","value":131.1},
    {"asset":"Gold","date":"2025-11-29","value":131.1},
    {"asset":"Gold","date":"2025-11-30","value":127.9},
    {"asset":"Gold","date":"2025-12-01","value":128.9},
    {"asset":"Gold","date":"2025-12-03","value":128.9},
    {"asset":"Gold","date":"2025-12-04","value":128.5},
    {"asset":"Gold","date":"2025-12-06","value":128.6},
    {"asset":"Gold","date":"2025-12-07","value":131.9},
    {"asset":"Gold","date":"2025-12-08","value":133.5},
    {"asset":"Gold","date":"2025-12-09","value":131.9},
    {"asset":"Gold","date":"2025-12-10","value":132.2},
    {"asset":"Gold","date":"2025-12-11","value":134.7},
    {"asset":"Gold","date":"2025-12-13","value":134.7},
    {"asset":"Gold","date":"2025-12-14","value":137.6},
    {"asset":"Gold","date":"2025-12-15","value":138.7},
    {"asset":"Gold","date":"2025-12-16","value":137.8},
    {"asset":"Gold","date":"2025-12-17","value":138.6},
    {"asset":"Gold","date":"2025-12-18","value":138.9},
    {"asset":"Gold","date":"2025-12-19","value":138.9},
    {"asset":"Gold","date":"2025-12-21","value":139.7},
    {"asset":"Gold","date":"2025-12-22","value":140.6},
    {"asset":"Gold","date":"2025-12-23","value":145.0},
    {"asset":"Gold","date":"2025-12-24","value":143.2},
    {"asset":"Gold","date":"2025-12-25","value":145.9},
    {"asset":"Gold","date":"2025-12-26","value":145.9},
    {"asset":"Gold","date":"2025-12-27","value":148.6},
    {"asset":"Gold","date":"2025-12-28","value":145.8},
    {"asset":"Gold","date":"2025-12-29","value":151.2},
    {"asset":"Gold","date":"2025-12-30","value":156.2},
    {"asset":"Gold","date":"2025-12-31","value":148.6},
    {"asset":"Gold","date":"2026-01-01","value":144.5},
    {"asset":"Gold","date":"2026-01-02","value":144.5},
    {"asset":"Gold","date":"2026-01-03","value":137.6},
    {"asset":"Gold","date":"2026-01-04","value":143.2},
    {"asset":"Gold","date":"2026-01-05","value":145.5},
    {"asset":"Gold","date":"2026-01-06","value":141.2},
    {"asset":"Gold","date":"2026-01-07","value":143.9},
    {"asset":"Gold","date":"2026-01-09","value":143.9},
    {"asset":"Gold","date":"2026-01-11","value":145.3},
    {"asset":"Gold","date":"2026-01-12","value":147.0},
    {"asset":"Gold","date":"2026-01-14","value":145.9},
    {"asset":"Gold","date":"2026-01-15","value":143.9},
    {"asset":"Gold","date":"2026-01-16","value":143.9},
    {"asset":"Gold","date":"2026-01-18","value":143.7},
    {"asset":"Gold","date":"2026-01-19","value":140.5},
    {"asset":"Gold","date":"2026-01-20","value":145.1},
    {"asset":"Gold","date":"2026-01-21","value":145.9},
    {"asset":"Gold","date":"2026-01-22","value":147.4},
    {"asset":"Gold","date":"2026-01-23","value":147.4},
    {"asset":"Gold","date":"2026-01-24","value":151.3},
    {"asset":"Gold","date":"2026-01-25","value":148.8},
    {"asset":"Gold","date":"2026-01-26","value":151.1},
    {"asset":"Gold","date":"2026-01-27","value":150.7},
    {"asset":"Gold","date":"2026-01-28","value":151.0},
    {"asset":"Gold","date":"2026-01-30","value":151.0},
    {"asset":"Gold","date":"2026-01-31","value":155.9},
    {"asset":"Gold","date":"2026-02-01","value":151.8},
    {"asset":"Gold","date":"2026-02-02","value":148.0},
    {"asset":"Gold","date":"2026-02-03","value":151.1},
    {"asset":"Gold","date":"2026-02-04","value":150.2},
    {"asset":"Gold","date":"2026-02-05","value":149.9},
    {"asset":"Gold","date":"2026-02-06","value":149.9},
    {"asset":"Gold","date":"2026-02-07","value":149.2},
    {"asset":"Gold","date":"2026-02-08","value":152.5},
    {"asset":"Gold","date":"2026-02-10","value":151.5},
    {"asset":"Gold","date":"2026-02-11","value":149.8},
    {"asset":"Gold","date":"2026-02-13","value":149.8},
    {"asset":"Gold","date":"2026-02-14","value":148.1},
    {"asset":"Gold","date":"2026-02-15","value":148.0},
    {"asset":"Gold","date":"2026-02-16","value":144.5},
    {"asset":"Gold","date":"2026-02-17","value":138.8},
    {"asset":"Gold","date":"2026-02-18","value":136.2},
    {"asset":"Gold","date":"2026-02-19","value":134.5},
    {"asset":"Gold","date":"2026-02-20","value":134.5},
    {"asset":"Gold","date":"2026-02-21","value":131.2},
    {"asset":"Gold","date":"2026-02-22","value":130.3},
    {"asset":"Gold","date":"2026-02-23","value":135.3},
    {"asset":"Gold","date":"2026-02-24","value":132.2},
    {"asset":"Gold","date":"2026-02-25","value":134.5},
    {"asset":"Gold","date":"2026-02-27","value":134.5},
    {"asset":"Gold","date":"2026-02-28","value":135.6},
    {"asset":"Gold","date":"2026-03-01","value":138.4},
    {"asset":"Gold","date":"2026-03-02","value":140.9},
    {"asset":"Gold","date":"2026-03-03","value":138.9},
    {"asset":"Gold","date":"2026-03-07","value":138.9},
    {"asset":"Gold","date":"2026-03-08","value":138.0},
    {"asset":"Gold","date":"2026-03-09","value":142.1},
    {"asset":"Gold","date":"2026-03-10","value":140.7},
    {"asset":"Gold","date":"2026-03-11","value":141.3},
    {"asset":"Gold","date":"2026-03-13","value":141.3},
    {"asset":"Gold","date":"2026-03-14","value":139.1},
    {"asset":"Gold","date":"2026-03-15","value":140.4},
    {"asset":"Gold","date":"2026-03-16","value":141.6},
    {"asset":"Gold","date":"2026-03-17","value":141.0},
    {"asset":"Gold","date":"2026-03-18","value":142.5},
    {"asset":"Gold","date":"2026-03-20","value":142.5},
    {"asset":"Gold","date":"2026-03-21","value":140.8},
    {"asset":"Gold","date":"2026-03-22","value":139.8},
    {"asset":"Gold","date":"2026-03-23","value":139.3},
    {"asset":"Gold","date":"2026-03-24","value":138.6},
    {"asset":"Gold","date":"2026-03-27","value":138.6},
    {"asset":"Gold","date":"2026-03-28","value":138.0},
    {"asset":"Gold","date":"2026-03-29","value":134.7},
    {"asset":"Gold","date":"2026-03-30","value":133.6},
    {"asset":"Gold","date":"2026-03-31","value":134.9},
    {"asset":"Gold","date":"2026-04-01","value":135.3},

    {"asset":"Versicherungsverbriefung","date":"2025-04-01","value":100},
    {"asset":"Versicherungsverbriefung","date":"2025-04-05","value":99.8},
    {"asset":"Versicherungsverbriefung","date":"2025-04-06","value":99.5},
    {"asset":"Versicherungsverbriefung","date":"2025-04-10","value":99.5},
    {"asset":"Versicherungsverbriefung","date":"2025-04-11","value":99.8},
    {"asset":"Versicherungsverbriefung","date":"2025-05-01","value":99.8},
    {"asset":"Versicherungsverbriefung","date":"2025-05-02","value":100.0},
    {"asset":"Versicherungsverbriefung","date":"2025-05-07","value":100.0},
    {"asset":"Versicherungsverbriefung","date":"2025-05-08","value":99.7},
    {"asset":"Versicherungsverbriefung","date":"2025-05-09","value":100.0},
    {"asset":"Versicherungsverbriefung","date":"2025-05-15","value":100.0},
    {"asset":"Versicherungsverbriefung","date":"2025-05-16","value":100.2},
    {"asset":"Versicherungsverbriefung","date":"2025-05-29","value":100.2},
    {"asset":"Versicherungsverbriefung","date":"2025-05-30","value":100.5},
    {"asset":"Versicherungsverbriefung","date":"2025-06-04","value":100.5},
    {"asset":"Versicherungsverbriefung","date":"2025-06-05","value":100.8},
    {"asset":"Versicherungsverbriefung","date":"2025-06-08","value":100.8},
    {"asset":"Versicherungsverbriefung","date":"2025-06-09","value":100.5},
    {"asset":"Versicherungsverbriefung","date":"2025-06-12","value":100.5},
    {"asset":"Versicherungsverbriefung","date":"2025-06-13","value":101.0},
    {"asset":"Versicherungsverbriefung","date":"2025-06-15","value":101.0},
    {"asset":"Versicherungsverbriefung","date":"2025-06-16","value":100.7},
    {"asset":"Versicherungsverbriefung","date":"2025-06-19","value":100.7},
    {"asset":"Versicherungsverbriefung","date":"2025-06-20","value":101.0},
    {"asset":"Versicherungsverbriefung","date":"2025-06-25","value":101.0},
    {"asset":"Versicherungsverbriefung","date":"2025-06-27","value":101.5},
    {"asset":"Versicherungsverbriefung","date":"2025-07-02","value":101.5},
    {"asset":"Versicherungsverbriefung","date":"2025-07-03","value":101.8},
    {"asset":"Versicherungsverbriefung","date":"2025-07-09","value":101.8},
    {"asset":"Versicherungsverbriefung","date":"2025-07-10","value":102.0},
    {"asset":"Versicherungsverbriefung","date":"2025-07-16","value":102.0},
    {"asset":"Versicherungsverbriefung","date":"2025-07-17","value":102.4},
    {"asset":"Versicherungsverbriefung","date":"2025-07-23","value":102.4},
    {"asset":"Versicherungsverbriefung","date":"2025-07-25","value":102.9},
    {"asset":"Versicherungsverbriefung","date":"2025-07-30","value":102.9},
    {"asset":"Versicherungsverbriefung","date":"2025-07-31","value":103.5},
    {"asset":"Versicherungsverbriefung","date":"2025-08-06","value":103.5},
    {"asset":"Versicherungsverbriefung","date":"2025-08-07","value":103.9},
    {"asset":"Versicherungsverbriefung","date":"2025-08-11","value":103.9},
    {"asset":"Versicherungsverbriefung","date":"2025-08-13","value":103.5},
    {"asset":"Versicherungsverbriefung","date":"2025-08-14","value":104.3},
    {"asset":"Versicherungsverbriefung","date":"2025-08-20","value":104.3},
    {"asset":"Versicherungsverbriefung","date":"2025-08-21","value":105.1},
    {"asset":"Versicherungsverbriefung","date":"2025-08-24","value":105.1},
    {"asset":"Versicherungsverbriefung","date":"2025-08-25","value":104.7},
    {"asset":"Versicherungsverbriefung","date":"2025-08-27","value":104.7},
    {"asset":"Versicherungsverbriefung","date":"2025-08-29","value":105.7},
    {"asset":"Versicherungsverbriefung","date":"2025-09-03","value":105.7},
    {"asset":"Versicherungsverbriefung","date":"2025-09-04","value":106.0},
    {"asset":"Versicherungsverbriefung","date":"2025-09-10","value":106.0},
    {"asset":"Versicherungsverbriefung","date":"2025-09-11","value":106.3},
    {"asset":"Versicherungsverbriefung","date":"2025-09-16","value":106.3},
    {"asset":"Versicherungsverbriefung","date":"2025-09-18","value":106.5},
    {"asset":"Versicherungsverbriefung","date":"2025-09-24","value":106.5},
    {"asset":"Versicherungsverbriefung","date":"2025-09-25","value":106.6},
    {"asset":"Versicherungsverbriefung","date":"2025-10-01","value":106.6},
    {"asset":"Versicherungsverbriefung","date":"2025-10-02","value":106.3},
    {"asset":"Versicherungsverbriefung","date":"2025-10-08","value":106.3},
    {"asset":"Versicherungsverbriefung","date":"2025-10-09","value":106.6},
    {"asset":"Versicherungsverbriefung","date":"2025-10-11","value":106.6},
    {"asset":"Versicherungsverbriefung","date":"2025-10-13","value":106.3},
    {"asset":"Versicherungsverbriefung","date":"2025-10-15","value":106.3},
    {"asset":"Versicherungsverbriefung","date":"2025-10-16","value":106.5},
    {"asset":"Versicherungsverbriefung","date":"2025-10-27","value":106.5},
    {"asset":"Versicherungsverbriefung","date":"2025-10-28","value":106.8},
    {"asset":"Versicherungsverbriefung","date":"2025-11-12","value":106.8},
    {"asset":"Versicherungsverbriefung","date":"2025-11-13","value":107.1},
    {"asset":"Versicherungsverbriefung","date":"2025-11-14","value":106.8},
    {"asset":"Versicherungsverbriefung","date":"2025-11-19","value":106.8},
    {"asset":"Versicherungsverbriefung","date":"2025-11-20","value":107.1},
    {"asset":"Versicherungsverbriefung","date":"2025-12-01","value":107.1},
    {"asset":"Versicherungsverbriefung","date":"2025-12-02","value":107.3},
    {"asset":"Versicherungsverbriefung","date":"2025-12-03","value":107.0},
    {"asset":"Versicherungsverbriefung","date":"2025-12-10","value":107.0},
    {"asset":"Versicherungsverbriefung","date":"2025-12-11","value":107.3},
    {"asset":"Versicherungsverbriefung","date":"2025-12-23","value":107.3},
    {"asset":"Versicherungsverbriefung","date":"2025-12-25","value":107.6},
    {"asset":"Versicherungsverbriefung","date":"2025-12-26","value":107.2},
    {"asset":"Versicherungsverbriefung","date":"2025-12-30","value":107.2},
    {"asset":"Versicherungsverbriefung","date":"2025-12-31","value":107.5},
    {"asset":"Versicherungsverbriefung","date":"2026-01-27","value":107.5},
    {"asset":"Versicherungsverbriefung","date":"2026-01-28","value":107.8},
    {"asset":"Versicherungsverbriefung","date":"2026-02-18","value":107.8},
    {"asset":"Versicherungsverbriefung","date":"2026-02-19","value":108.1},
    {"asset":"Versicherungsverbriefung","date":"2026-02-24","value":108.0},
    {"asset":"Versicherungsverbriefung","date":"2026-02-25","value":108.3},
    {"asset":"Versicherungsverbriefung","date":"2026-03-17","value":108.3},
    {"asset":"Versicherungsverbriefung","date":"2026-03-18","value":108.5},
    {"asset":"Versicherungsverbriefung","date":"2026-03-19","value":108.3},
    {"asset":"Versicherungsverbriefung","date":"2026-03-24","value":108.3},
    {"asset":"Versicherungsverbriefung","date":"2026-03-25","value":108.5},
    {"asset":"Versicherungsverbriefung","date":"2026-04-01","value":108.5}
  ]},
  "encoding": {
    "x": {
      "field": "date",
      "type": "temporal",
      "scale": {"type": "utc", "domain": [{"year": 2025, "month": 4, "date": 1, "utc": true}, {"year": 2026, "month": 4, "date": 1, "utc": true}]},
      "axis": {
        "values": [
          {"year": 2025, "month": 4, "date": 1, "utc": true},
          {"year": 2025, "month": 7, "date": 1, "utc": true},
          {"year": 2025, "month": 10, "date": 1, "utc": true},
          {"year": 2026, "month": 1, "date": 1, "utc": true},
          {"year": 2026, "month": 4, "date": 1, "utc": true}
        ],
        "labelExpr": "utcyear(datum.value) == 2026 && utcmonth(datum.value) == 3 ? 'April. 2026' : utcmonth(datum.value) == 0 ? 'Jan. 2025' : utcmonth(datum.value) == 6 ? 'Juli 2025' : utcmonth(datum.value) == 9 ? 'Okt. 2025' : 'April 2025'",
        "tickSize": 24,
        "labelPadding": 25,
        "labelFlush": false,
        "labelOverlap": false,
        "labelBound": false
      }
    },
    "y": {
      "field": "value",
      "type": "quantitative",
      "scale": {"domain": [90, 161], "nice": false, "zero": false},
      "axis": {
        "values": [90, 100, 110, 120, 130, 140, 150, 160],
        "ticks": false,
        "labelPadding": 27,
        "labelOverlap": false
      }
    }
  },
  "layer": [
    {
      "mark": {"type": "line", "strokeWidth": 7, "strokeJoin": "round", "strokeCap": "round"},
      "encoding": {
        "color": {
          "field": "asset",
          "type": "nominal",
          "scale": {
            "domain": ["Immobilien", "Gold", "Wandelanleihen", "Versicherungsverbriefung"],
            "range": ["#00705C", "#FFD23F", "#FFD23F", "#0B9884"]
          },
          "legend": {
            "orient": "none",
            "direction": "horizontal",
            "legendX": -109,
            "legendY": 1262,
            "columns": 2,
            "title": null,
            "padding": 0,
            "symbolType": "stroke",
            "symbolSize": 23409,
            "symbolStrokeWidth": 7,
            "labelFont": "Inter",
            "labelFontWeight": 300,
            "labelFontSize": 64,
            "labelColor": "#000000",
            "labelOffset": 13,
            "labelLimit": 2000,
            "columnPadding": 799,
            "rowPadding": -63
          }
        }
      }
    },
    {
      "mark": {"type": "line", "strokeWidth": 7, "strokeJoin": "round", "strokeCap": "round"},
      "encoding": {
        "stroke": {
          "field": "asset",
          "type": "nominal",
          "scale": {
            "domain": ["Immobilien", "Gold", "Wandelanleihen", "Versicherungsverbriefung"],
            "range": ["#00705C", "#F2B60F", "#FFD23F", "#0B9884"]
          },
          "legend": null
        }
      }
    }
  ]
}
